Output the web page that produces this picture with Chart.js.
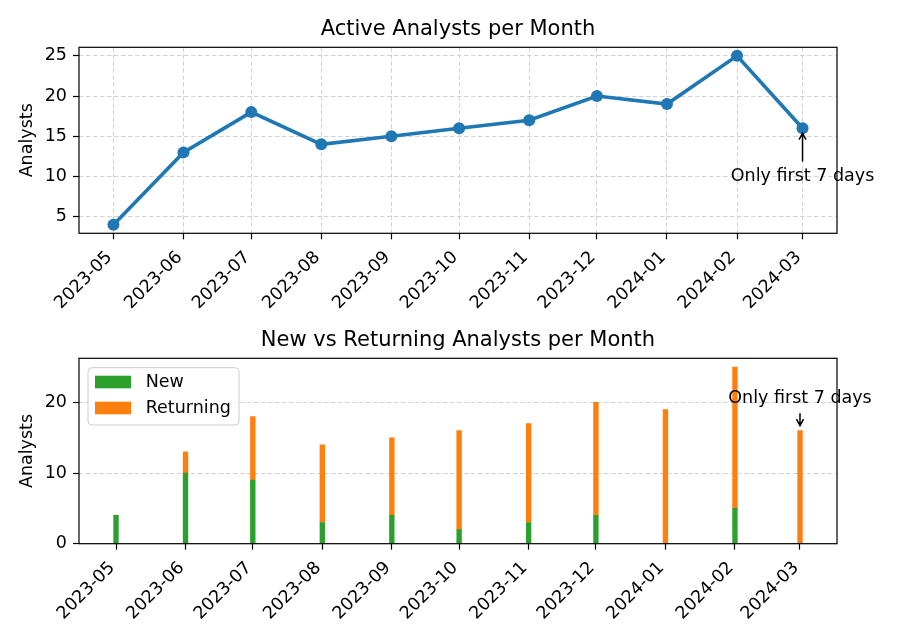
<!DOCTYPE html>
<html>
<head>
<meta charset="utf-8">
<script src="https://cdn.jsdelivr.net/npm/chart.js@4.4.1/dist/chart.umd.min.js"></script>
<style>
  body { margin: 0; background: #fff; }
  #wrap { position: relative; width: 897px; height: 641px; }
  canvas { position: absolute; left: 0; }
  #top { top: 0; }
  #bottom { top: 320px; }
</style>
</head>
<body>
<div id="wrap">
  <canvas id="top" width="897" height="320"></canvas>
  <canvas id="bottom" width="897" height="321"></canvas>
</div>
<script>
const months = ['2023-05', '2023-06', '2023-07', '2023-08', '2023-09', '2023-10',
                '2023-11', '2023-12', '2024-01', '2024-02', '2024-03'];
const activeAnalysts = [4, 13, 18, 14, 15, 16, 17, 20, 19, 25, 16];
const newAnalysts = [4, 10, 9, 3, 4, 2, 3, 4, 0, 5, 0];
const returningAnalysts = [0, 3, 9, 11, 11, 14, 14, 16, 19, 20, 16];
const topTicks = [5, 10, 15, 20, 25];
const bottomTicks = [0, 10, 20];

const noteMonth = '2024-03';
const noteText = 'Only first 7 days';

Chart.defaults.font.family = '"DejaVu Sans"';
Chart.defaults.font.size = 17.5;
Chart.defaults.color = '#000';
Chart.defaults.animation = false;

// months -> days since the first month, so the axis keeps real date spacing
const t0 = Date.UTC(+months[0].slice(0, 4), +months[0].slice(5, 7) - 1, 1);
const dayOf = m => (Date.UTC(+m.slice(0, 4), +m.slice(5, 7) - 1, 1) - t0) / 864e5;
const monthDays = months.map(dayOf);

const gridColor = '#d2d2d2';
const gridDash = [4.5, 2.5];

function xAxis(min, max, gridOnArea, height) {
    return {
        type: 'linear',
        min: min,
        max: max,
        offset: false,
        afterBuildTicks: s => { s.ticks = monthDays.map(v => ({ value: v })); },
        afterFit: s => { s.height = height; },
        ticks: {
            autoSkip: false,
            maxRotation: 45,
            minRotation: 45,
            padding: 4,
            callback: (v, i) => months[i] + ' '
        },
        grid: {
            offset: false,
            drawOnChartArea: gridOnArea,
            color: gridColor,
            tickColor: '#000',
            tickLength: 6,
            tickWidth: 1.2
        },
        border: { display: false, dash: gridDash }
    };
}

function yAxis(min, max, tickVals) {
    return {
        min: min,
        max: max,
        afterBuildTicks: s => { s.ticks = tickVals.map(v => ({ value: v })); },
        afterFit: s => { s.width = 79; },
        title: {
            display: true,
            text: 'Analysts',
            padding: { top: 16.5, bottom: 0 }
        },
        ticks: { padding: 6 },
        grid: {
            color: gridColor,
            tickColor: '#000',
            tickLength: 6,
            tickWidth: 1.2
        },
        border: { display: false, dash: gridDash }
    };
}

const frame = {
    id: 'frame',
    afterDraw(chart) {
        const { ctx, chartArea: a } = chart;
        ctx.save();
        ctx.strokeStyle = '#000';
        ctx.lineWidth = 1.2;
        ctx.strokeRect(a.left, a.top, a.right - a.left, a.bottom - a.top);
        ctx.restore();
    }
};

function note(textY, targetY) {
    return {
        id: 'note',
        afterDraw(chart) {
            const { ctx, scales: { x, y } } = chart;
            const px = x.getPixelForValue(dayOf(noteMonth));
            const ty = y.getPixelForValue(textY);
            const py = y.getPixelForValue(targetY);
            const dir = py < ty ? -1 : 1;
            const y0 = ty + dir * 15;
            const y1 = py - dir * 5;
            ctx.save();
            ctx.font = '17.5px "DejaVu Sans"';
            ctx.fillStyle = '#000';
            ctx.textAlign = 'center';
            ctx.textBaseline = 'middle';
            ctx.fillText(noteText, px, ty);
            ctx.strokeStyle = '#000';
            ctx.lineWidth = 1.5;
            ctx.beginPath();
            ctx.moveTo(px, y0);
            ctx.lineTo(px, y1);
            ctx.moveTo(px - 3.5, y1 - dir * 6.5);
            ctx.lineTo(px, y1);
            ctx.lineTo(px + 3.5, y1 - dir * 6.5);
            ctx.stroke();
            ctx.restore();
        }
    };
}

const boxLegend = {
    id: 'boxLegend',
    afterDraw(chart) {
        const { ctx, chartArea: a } = chart;
        const left = a.left + 9, top = a.top + 9.4, w = 151, h = 57.3;
        ctx.save();
        ctx.fillStyle = 'rgba(255,255,255,0.8)';
        ctx.strokeStyle = '#cccccc';
        ctx.lineWidth = 1;
        ctx.beginPath();
        ctx.roundRect(left, top, w, h, 4);
        ctx.fill();
        ctx.stroke();
        ctx.font = '17.5px "DejaVu Sans"';
        ctx.textBaseline = 'middle';
        chart.data.datasets.forEach((ds, i) => {
            const py = top + 8 + i * 26;
            ctx.fillStyle = ds.backgroundColor;
            ctx.fillRect(left + 7, py, 36, 12.6);
            ctx.fillStyle = '#000';
            ctx.fillText(ds.label, left + 57.7, py + 6.8);
        });
        ctx.restore();
    }
};

new Chart(document.getElementById('top'), {
    type: 'line',
    data: {
        datasets: [{
            label: 'Active analysts',
            data: months.map((m, i) => ({ x: monthDays[i], y: activeAnalysts[i] })),
            borderColor: '#1f77b4',
            backgroundColor: '#1f77b4',
            borderWidth: 3.6,
            pointRadius: 6,
            pointHoverRadius: 6,
            pointBorderWidth: 0,
            tension: 0
        }]
    },
    options: {
        responsive: false,
        layout: { padding: { left: 0, right: 60, top: 0, bottom: 0 } },
        plugins: {
            legend: { display: false },
            tooltip: { enabled: false },
            title: {
                display: true,
                fullSize: false,
                text: 'Active Analysts per Month',
                font: { size: 21, weight: 'normal' },
                padding: { top: 17.4, bottom: 4.7 }
            }
        },
        scales: {
            x: xAxis(-15.25, 320.25, true, 86.7),
            y: yAxis(2.95, 26.05, topTicks)
        }
    },
    plugins: [frame, note(10, 16)]
});

new Chart(document.getElementById('bottom'), {
    type: 'bar',
    data: {
        datasets: [
            {
                label: 'New',
                data: months.map((m, i) => ({ x: monthDays[i], y: newAnalysts[i] })),
                backgroundColor: '#2ca02c',
                barThickness: 4.7
            },
            {
                label: 'Returning',
                data: months.map((m, i) => ({ x: monthDays[i], y: returningAnalysts[i] })),
                backgroundColor: '#ff7f0e',
                barThickness: 4.7
            }
        ]
    },
    options: {
        responsive: false,
        layout: { padding: { left: 0, right: 60, top: 0, bottom: 0 } },
        plugins: {
            legend: { display: false },
            tooltip: { enabled: false },
            title: {
                display: true,
                fullSize: false,
                text: 'New vs Returning Analysts per Month',
                font: { size: 21, weight: 'normal' },
                padding: { top: 8.4, bottom: 4.7 }
            }
        },
        scales: {
            x: Object.assign(xAxis(-16.5, 321.5, false, 97.3), { stacked: true }),
            y: Object.assign(yAxis(0, 26.25, bottomTicks), { stacked: true })
        }
    },
    plugins: [frame, note(20.6, 16), boxLegend]
});
</script>
</body>
</html>
